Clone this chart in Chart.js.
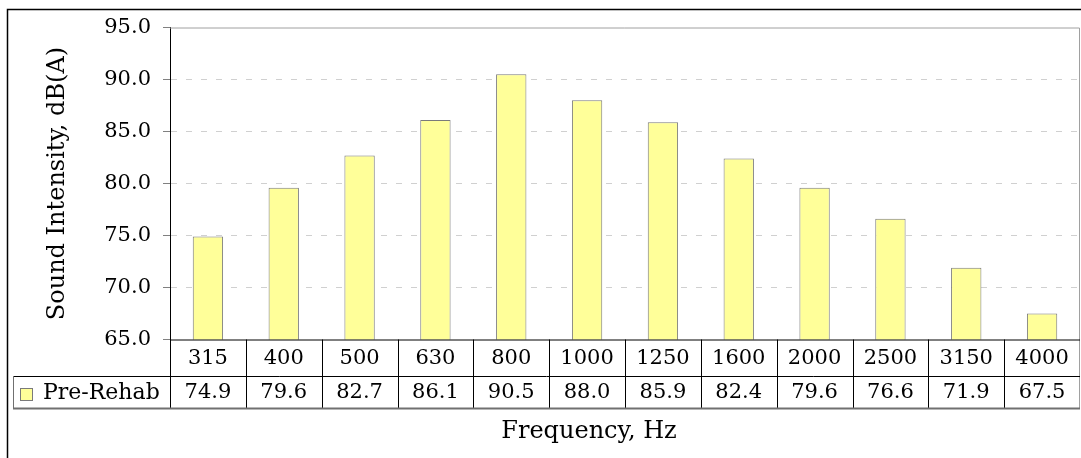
<!DOCTYPE html>
<html>
<head>
<meta charset="utf-8">
<script src="https://cdn.jsdelivr.net/npm/chart.js@4/dist/chart.umd.min.js"></script>
<style>
  html, body { margin: 0; padding: 0; background: #fff; }
  #wrap { width: 1081px; height: 458px; position: relative; }
</style>
</head>
<body>
<div id="wrap"><canvas id="soundChart"></canvas></div>
<script>
const frequencies = ['315', '400', '500', '630', '800', '1000', '1250', '1600', '2000', '2500', '3150', '4000'];
const preRehab = [74.9, 79.6, 82.7, 86.1, 90.5, 88.0, 85.9, 82.4, 79.6, 76.6, 71.9, 67.5];
const yTicks = [65, 70, 75, 80, 85, 90, 95];

const FONT = 'DejaVu Serif';
const barFill = '#FFFF99';
const barEdge = '#7a7a7a';

// data table under the plot, drawn on the x scale columns
const dataTable = {
  id: 'dataTable',
  afterDraw(chart) {
    const ctx = chart.ctx;
    const x = chart.scales.x;
    const area = chart.chartArea;
    const half = (x.getPixelForValue(1) - x.getPixelForValue(0)) / 2;
    const row1 = area.bottom + 36.5;
    const row2 = area.bottom + 69;
    const legLeft = 13;

    ctx.save();
    // outer frame
    ctx.strokeStyle = '#000';
    ctx.lineWidth = 1.5;
    ctx.beginPath();
    ctx.moveTo(7.5, 458);
    ctx.lineTo(7.5, 9.5);
    ctx.lineTo(1081, 9.5);
    ctx.stroke();

    // plot frame top / right
    ctx.lineWidth = 1;
    ctx.strokeStyle = '#a0a0a0';
    ctx.beginPath();
    ctx.moveTo(area.left, area.top + 0.5);
    ctx.lineTo(area.right - 0.5, area.top + 0.5);
    ctx.lineTo(area.right - 0.5, row2);
    ctx.stroke();

    // table lines
    ctx.strokeStyle = '#000';
    ctx.beginPath();
    ctx.moveTo(area.left, area.bottom + 0.5);
    ctx.lineTo(area.right, area.bottom + 0.5);
    ctx.moveTo(legLeft, row1 + 0.5);
    ctx.lineTo(area.right, row1 + 0.5);
    for (let i = 0; i < frequencies.length; i++) {
      const b = Math.round(x.getPixelForValue(i) - half) + 0.5;
      ctx.moveTo(b, area.bottom);
      ctx.lineTo(b, row2);
    }
    ctx.stroke();

    ctx.strokeStyle = '#707070';
    ctx.lineWidth = 2;
    ctx.beginPath();
    ctx.moveTo(legLeft, row2);
    ctx.lineTo(area.right, row2);
    ctx.stroke();
    ctx.lineWidth = 1;
    ctx.beginPath();
    ctx.moveTo(legLeft + 0.5, row1);
    ctx.lineTo(legLeft + 0.5, row2);
    ctx.stroke();

    // texts
    ctx.fillStyle = '#000';
    ctx.font = '21px "' + FONT + '"';
    ctx.textAlign = 'center';
    ctx.textBaseline = 'middle';
    frequencies.forEach((f, i) => {
      const cx = x.getPixelForValue(i);
      ctx.fillText(f, cx, area.bottom + 19);
      ctx.fillText(preRehab[i].toFixed(1), cx, row1 + 17);
    });

    // legend key
    const ds = chart.data.datasets[0];
    ctx.fillStyle = ds.backgroundColor;
    ctx.fillRect(20.5, 388.5, 12, 12);
    ctx.strokeStyle = ds.borderColor;
    ctx.strokeRect(20.5, 388.5, 12, 12);
    ctx.fillStyle = '#000';
    ctx.textAlign = 'left';
    ctx.font = '22px "' + FONT + '"';
    ctx.fillText(ds.label, 43, row1 + 17);

    // x axis title
    ctx.textAlign = 'center';
    ctx.font = '24px "' + FONT + '"';
    ctx.fillText('Frequency, Hz', 589, 432);
    ctx.restore();
  }
};

new Chart(document.getElementById('soundChart'), {
  type: 'bar',
  data: {
    labels: frequencies,
    datasets: [{
      label: 'Pre-Rehab',
      data: preRehab,
      backgroundColor: barFill,
      borderColor: barEdge,
      borderWidth: 1,
      categoryPercentage: 1.0,
      barPercentage: 0.4
    }]
  },
  options: {
    responsive: true,
    maintainAspectRatio: false,
    animation: false,
    devicePixelRatio: 1,
    layout: { padding: { left: 8, top: 27.5, right: 1, bottom: 118.5 } },
    plugins: {
      legend: { display: false },
      tooltip: { enabled: false }
    },
    scales: {
      x: { display: false },
      y: {
        min: yTicks[0],
        max: yTicks[yTicks.length - 1],
        afterFit(scale) { scale.width = 162; },
        afterBuildTicks(scale) { scale.ticks = yTicks.map(v => ({ value: v })); },
        ticks: {
          padding: 12,
          color: '#000',
          font: { family: FONT, size: 21 },
          callback: v => Number(v).toFixed(1)
        },
        grid: {
          color: c => (c.tick && (c.tick.value === 65 || c.tick.value === 95)) ? 'rgba(0,0,0,0)' : '#d0d0d0',
          tickColor: '#808080',
          tickLength: 7
        },
        border: { color: '#000', width: 1, dash: [6, 9] },
        title: {
          display: true,
          text: 'Sound Intensity, dB(A)',
          color: '#000',
          font: { family: FONT, size: 24 },
          padding: { top: 35 }
        }
      }
    }
  },
  plugins: [dataTable]
});
</script>
</body>
</html>
